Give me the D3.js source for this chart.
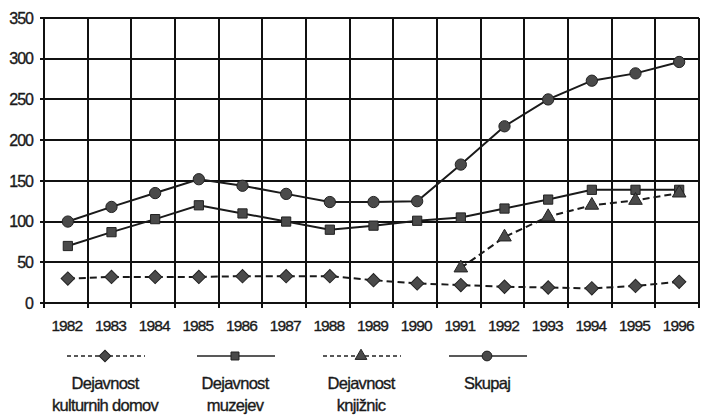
<!DOCTYPE html>
<html lang="sl">
<head>
<meta charset="utf-8">
<title>Dejavnost</title>
<script src="https://cdn.jsdelivr.net/npm/d3@7"></script>
<style>
  body { margin: 0; background: #fff; }
  text { font-family: "Liberation Sans", Arial, sans-serif; fill: #1a1a1a; stroke: #1a1a1a; stroke-width: 0.35px; }
  .grid line { stroke: #111; stroke-width: 2; shape-rendering: crispEdges; }
</style>
</head>
<body>
<div id="chart"></div>
<script>
// data
var years = [1982,1983,1984,1985,1986,1987,1988,1989,1990,1991,1992,1993,1994,1995,1996];
var domovi  = [30,32,32,32,33,33,33,28,24,22,20,19,18,21,26];
var muzeji  = [70,87,103,120,110,100,90,95,101,105,116,127,139,139,139];
var knjiznice = [null,null,null,null,null,null,null,null,null,43,81,106,120,126,135];
var skupaj  = [100,118,135,152,144,134,124,124,125,170,217,250,273,282,296];
var yTicks = [0,50,100,150,200,250,300,350];
var seriesNames = [["Dejavnost","kulturnih domov"],["Dejavnost","muzejev"],["Dejavnost","knjižnic"],["Skupaj"]];

var W = 702, H = 416;
var m = {left: 44, right: 3, top: 18, bottom: 113};

var svg = d3.select("#chart").append("svg")
    .attr("width", W).attr("height", H);

var x = d3.scaleBand().domain(years).range([m.left, W - m.right]).padding(0);
var y = d3.scaleLinear().domain([0, 350]).range([H - m.bottom, m.top]);

// horizontal grid
var grid = svg.append("g").attr("class", "grid");
grid.selectAll(".h").data(yTicks).enter().append("line")
    .attr("x1", m.left - 4).attr("x2", W - m.right)
    .attr("y1", function(d){ return y(d); }).attr("y2", function(d){ return y(d); });

// vertical grid at band edges
var edges = years.map(function(d){ return x(d); }).concat([x(years[years.length-1]) + x.bandwidth()]);
grid.selectAll(".v").data(edges).enter().append("line")
    .attr("x1", function(d){ return d; }).attr("x2", function(d){ return d; })
    .attr("y1", y(350)).attr("y2", y(0) + 5);

// y labels
svg.append("g").selectAll("text").data(yTicks).enter().append("text")
    .attr("x", 33).attr("y", function(d){ return y(d); })
    .attr("dy", "0.36em").attr("text-anchor", "end")
    .style("font-size", "16px").style("letter-spacing", "-1px")
    .text(function(d){ return d; });

// x labels
svg.append("g").selectAll("text").data(years).enter().append("text")
    .attr("x", function(d){ return x(d) + x.bandwidth()/2 + 1; })
    .attr("y", y(0) + 28)
    .attr("text-anchor", "middle")
    .style("font-size", "15.5px").style("letter-spacing", "-0.9px")
    .text(function(d){ return d; });

var cx = function(i){ return x(years[i]) + x.bandwidth()/2 + 2; };

var series = [
  {values: domovi, dash: "7,4", symbol: d3.symbolSquare, size: 90, rot: 45},
  {values: muzeji, dash: null, symbol: d3.symbolSquare, size: 85, rot: 0},
  {values: knjiznice, dash: "7,4", symbol: d3.symbolTriangle, size: 80, rot: 0},
  {values: skupaj, dash: null, symbol: d3.symbolCircle, size: 100, rot: 0}
];

var line = d3.line()
    .defined(function(d){ return d != null; })
    .x(function(d, i){ return cx(i); })
    .y(function(d){ return y(d); });

series.forEach(function(s){
  svg.append("path")
      .datum(s.values)
      .attr("d", line)
      .attr("fill", "none")
      .attr("stroke", "#1a1a1a")
      .attr("stroke-width", 2)
      .attr("stroke-dasharray", s.dash);
  svg.append("g").selectAll("path")
      .data(s.values.map(function(v, i){ return {v: v, i: i}; }).filter(function(d){ return d.v != null; }))
      .enter().append("path")
      .attr("transform", function(d){ return "translate(" + cx(d.i) + "," + y(d.v) + ") rotate(" + s.rot + ")"; })
      .attr("d", d3.symbol().type(s.symbol).size(s.size))
      .attr("fill", "#4a4a4a").attr("stroke", "#222").attr("stroke-width", 1);
});

// legend
var legX = [105, 235, 361, 487];
var legend = svg.append("g").selectAll("g").data(series).enter().append("g")
    .attr("transform", function(d, i){ return "translate(" + legX[i] + ",356)"; });
legend.append("line")
    .attr("x1", -38).attr("x2", 40)
    .attr("stroke", "#222").attr("stroke-width", 1.5)
    .attr("stroke-dasharray", function(d){ return d.dash ? "4,3" : null; });
legend.append("path")
    .attr("transform", function(d){ return "rotate(" + d.rot + ")"; })
    .attr("d", function(d){ return d3.symbol().type(d.symbol).size(d.size * 0.75)(); })
    .attr("fill", "#4a4a4a").attr("stroke", "#222");
legend.each(function(d, i){
  var g = d3.select(this);
  seriesNames[i].forEach(function(t, j){
    g.append("text")
        .attr("x", 0).attr("y", 33 + j * 22)
        .attr("text-anchor", "middle")
        .style("font-size", "16.5px").style("letter-spacing", "-0.7px")
        .text(t);
  });
});
</script>
</body>
</html>
